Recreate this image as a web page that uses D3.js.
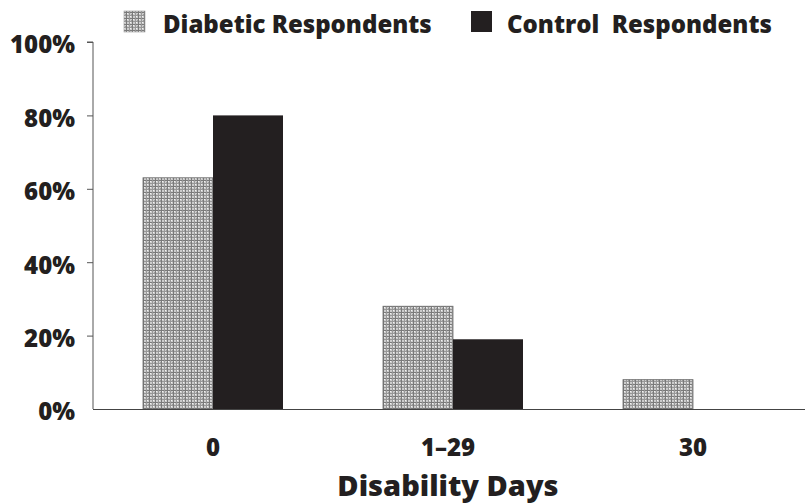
<!DOCTYPE html>
<html><head><meta charset="utf-8">
<script src="https://cdn.jsdelivr.net/npm/d3@7/dist/d3.min.js"></script>
<style>
body{margin:0;background:#fff;}
svg text{font-family:"Open Sans",sans-serif;font-weight:800;fill:#231f20;}
</style></head>
<body><svg id="c" width="807" height="504"></svg>
<script>
const categories = ["0", "1\u201329", "30"];
const seriesNames = ["Diabetic Respondents", "Control Respondents"];
const diabetic = [63, 28, 8];
const control = [80, 19, 0];
const yTicks = [0, 20, 40, 60, 80, 100];

const svg = d3.select("#c");
const defs = svg.append("defs");
const pat = defs.append("pattern").attr("id","hatch").attr("patternUnits","userSpaceOnUse")
  .attr("width",6).attr("height",6);
pat.append("rect").attr("width",6).attr("height",6).attr("fill","#cccccc");
pat.append("rect").attr("x",0).attr("y",0).attr("width",6).attr("height",1).attr("fill","#7a7a7a");
pat.append("rect").attr("x",0).attr("y",3).attr("width",6).attr("height",1).attr("fill","#989898");
pat.append("rect").attr("x",0).attr("y",0).attr("width",1).attr("height",6).attr("fill","#7a7a7a");
pat.append("rect").attr("x",3).attr("y",0).attr("width",1).attr("height",6).attr("fill","#989898");
pat.append("rect").attr("x",1).attr("y",1).attr("width",1).attr("height",1).attr("fill","#f4f4f4");
pat.append("rect").attr("x",4).attr("y",4).attr("width",1).attr("height",1).attr("fill","#f4f4f4");
pat.append("rect").attr("x",5).attr("y",2).attr("width",1).attr("height",1).attr("fill","#999");

const y = d3.scaleLinear().domain([0,100]).range([409,42]);
const x0 = d3.scaleBand().domain(categories).range([93,813]).paddingInner(1-140/240).paddingOuter(50/240);
const x1 = d3.scaleBand().domain(seriesNames).range([0,x0.bandwidth()]);

// y axis
const yAxis = d3.axisLeft(y).tickValues(yTicks).tickSize(6).tickFormat(d=>d+"%");
const gy = svg.append("g").attr("transform","translate(93,0)").call(yAxis);
gy.select(".domain").attr("stroke","#555").attr("d","M-6,42H0V409");
gy.selectAll(".tick line").attr("stroke","#555");
gy.selectAll(".tick text").attr("x",-18).attr("dy","0.45em").attr("font-size",24).attr("fill","#231f20")
  .style("font-family","'Open Sans',sans-serif").style("font-weight",800);
gy.selectAll(".tick").filter(d=>d===0).select("line").remove();

// bars
const groups = svg.append("g").selectAll("g").data(categories).join("g")
  .attr("transform",d=>`translate(${x0(d)},0)`);
groups.append("rect").attr("x",x1(seriesNames[0])).attr("width",x1.bandwidth())
  .attr("y",(d,i)=>y(diabetic[i])).attr("height",(d,i)=>y(0)-y(diabetic[i]))
  .attr("fill","url(#hatch)").attr("stroke","#6a6a6a").attr("stroke-width",0.8);
groups.append("rect").attr("x",x1(seriesNames[1])).attr("width",x1.bandwidth())
  .attr("y",(d,i)=>y(control[i])).attr("height",(d,i)=>y(0)-y(control[i]))
  .attr("fill","#231f20");

// x axis
svg.append("line").attr("x1",93).attr("x2",805).attr("y1",409.5).attr("y2",409.5).attr("stroke","#444").attr("stroke-width",1.2);
svg.append("g").selectAll("text").data(categories).join("text")
  .attr("x",d=>x0(d)+x0.bandwidth()/2-(d==="1\u201329"?5:0)).attr("y",456).attr("text-anchor","middle")
  .attr("font-size",24).text(d=>d);
svg.append("text").attr("x",448).attr("y",496).attr("text-anchor","middle").attr("font-size",29).text("Disability Days");

// legend
const leg = [{x:124, name:seriesNames[0], fill:"url(#hatch)", tx:163},
             {x:471, name:"Control\u00a0 Respondents", fill:"#231f20", tx:507}];
leg.forEach(l=>{
  svg.append("rect").attr("x",l.x).attr("y",11).attr("width",21).attr("height",21).attr("fill",l.fill)
    .attr("stroke", l.fill==="#231f20"?"none":"#999").attr("stroke-width",0.6);
  svg.append("text").attr("x",l.tx).attr("y",33).attr("font-size",24).text(l.name);
});
</script></body></html>
